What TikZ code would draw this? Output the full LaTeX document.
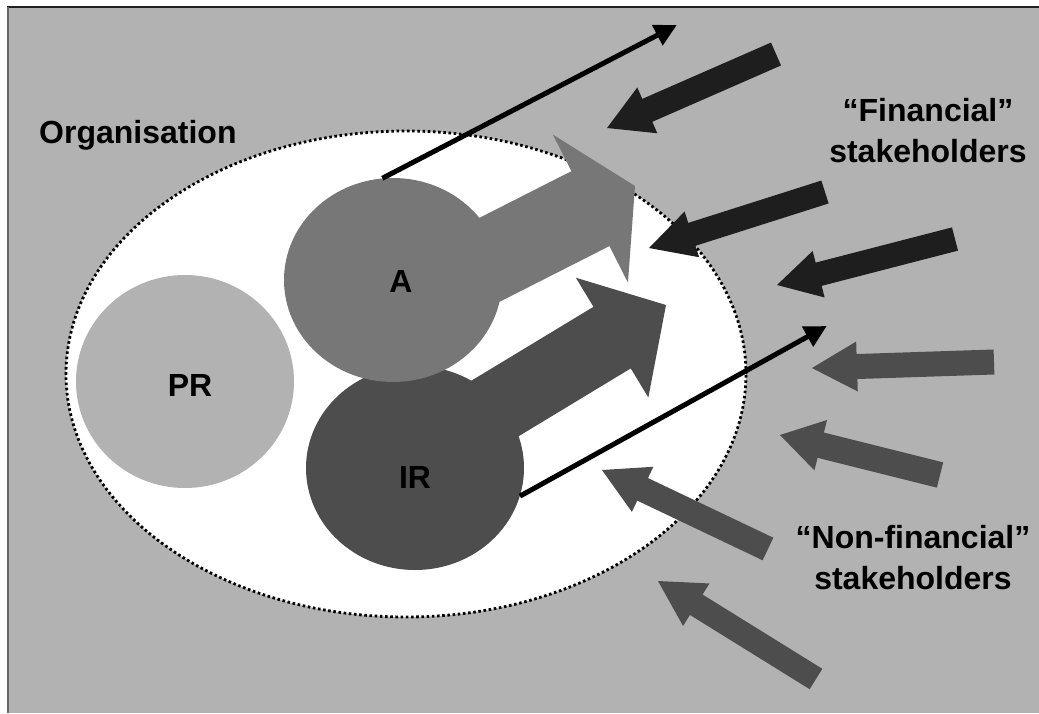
\documentclass[tikz,border=0pt]{standalone}
\usepackage{fontspec}
\setmainfont{Liberation Sans}
\usetikzlibrary{calc,arrows.meta,shapes.geometric}

\definecolor{bggray}{HTML}{B2B2B2}
\definecolor{agray}{HTML}{777777}
\definecolor{irgray}{HTML}{4D4D4D}
\definecolor{fincol}{HTML}{1E1E1E}
\definecolor{nonfincol}{HTML}{4D4D4D}

% block arrow: style, tail, tip, half shaft width, half head width, head length
\newcommand\blockarrow[6]{%
  \coordinate (#2b) at ($(#3)!#6!(#2)$);
  \fill[#1] ($(#2)!#4!90:(#3)$) -- ($(#2b)!#4!90:(#3)$) -- ($(#2b)!#5!90:(#3)$)
    -- (#3) -- ($(#2b)!#5!-90:(#3)$) -- ($(#2b)!#4!-90:(#3)$)
    -- ($(#2)!#4!-90:(#3)$) -- cycle;}

\tikzset{
  blob/.style={ellipse, inner sep=0pt, minimum width=218pt, minimum height=204pt},
  lbl/.style={font=\fontsize{32}{41}\selectfont\bfseries, inner sep=0pt, align=center},
  thinarrow/.style={line width=5pt, -{Triangle[length=22pt,width=22pt]}, shorten >=-2pt},
}

\begin{document}
\begin{tikzpicture}[x=1pt,y=-1pt]
\useasboundingbox (0,0) rectangle (1039,713);
\fill[white] (0,0) rectangle (1039,713);
\fill[bggray] (8,7) rectangle (1039,713);
\draw[line width=2pt, black!88] (7,7) -- (1039,7);
\draw[line width=2pt, black!60] (8,7) -- (8,713);

% the organisation
\node[ellipse, fill=white, draw=black, line width=2.8pt, dash pattern=on 2.6pt off 2.6pt,
      minimum width=680pt, minimum height=486pt, inner sep=0pt] (org) at (406,374) {};
\node[lbl, anchor=base west] (orglbl) at (39,143) {Organisation};

% IR and its outward arrow
\node[blob, fill=irgray] (IR) at (415,468) {};
\coordinate (irt) at (466,426);
\coordinate (irh) at (666,305);
\blockarrow{irgray}{irt}{irh}{36pt}{70pt}{63pt}

% A and its outward arrow
\node[blob, fill=agray] (A) at (393,280) {};
\coordinate (at) at (430,290);
\coordinate (ah) at (635,186);
\blockarrow{agray}{at}{ah}{42pt}{83pt}{50pt}

% PR
\node[blob, fill=bggray, minimum height=213pt] (PR) at (185,381.5) {};

\node[lbl] (Alab) at (401,281) {A};
\node[lbl] (IRlab) at (415,477) {IR};
\node[lbl] (PRlab) at (190,385) {PR};

% financial stakeholders
\coordinate (f1t) at (776,54);   \coordinate (f1h) at (607,128);
\coordinate (f2t) at (825,192);  \coordinate (f2h) at (649,248);
\coordinate (f3t) at (955,239);  \coordinate (f3h) at (777,285);
\blockarrow{fincol}{f1t}{f1h}{12.5pt}{25pt}{44pt}
\blockarrow{fincol}{f2t}{f2h}{12pt}{24pt}{45pt}
\blockarrow{fincol}{f3t}{f3h}{12pt}{24pt}{43pt}
\node[lbl] (finlbl) at (928,131) {“Financial”\\stakeholders};

% non-financial stakeholders
\coordinate (n1t) at (994,362);  \coordinate (n1h) at (812,368);
\coordinate (n2t) at (940,475);  \coordinate (n2h) at (780,435);
\coordinate (n3t) at (768,549);  \coordinate (n3h) at (602,470);
\coordinate (n4t) at (816,679);  \coordinate (n4h) at (658,581);
\blockarrow{nonfincol}{n1t}{n1h}{12.5pt}{25pt}{45pt}
\blockarrow{nonfincol}{n2t}{n2h}{13pt}{26pt}{42pt}
\blockarrow{nonfincol}{n3t}{n3h}{12.5pt}{25pt}{45pt}
\blockarrow{nonfincol}{n4t}{n4h}{12pt}{25pt}{45pt}
\node[lbl] (nonfinlbl) at (913,558) {“Non-financial”\\stakeholders};

% communication lines leaving the organisation
\coordinate (aout) at (675,26);
\coordinate (irout) at (825,327);
\draw[thinarrow] (A.96) -- (aout);
\draw[thinarrow] (IR.-15) -- (irout);
\end{tikzpicture}
\end{document}
